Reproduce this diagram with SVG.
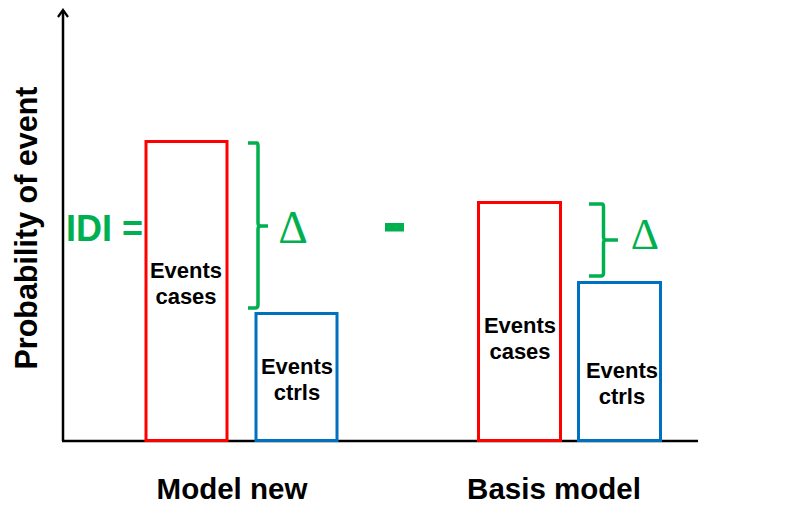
<svg xmlns="http://www.w3.org/2000/svg" width="798" height="510" viewBox="0 0 798 510">
  <defs>
    <marker id="axisHead" viewBox="0 0 12 12" refX="10" refY="6" markerWidth="12" markerHeight="12" markerUnits="userSpaceOnUse" orient="auto">
      <path d="M3,1 L10,6 L3,11" fill="none" stroke="#000" stroke-width="2.2"/>
    </marker>
    <style>
      .axis { stroke: #000; stroke-width: 2.5; fill: none; }
      .cases { fill: none; stroke: #FF0000; stroke-width: 3; }
      .ctrls { fill: none; stroke: #0070C0; stroke-width: 3; }
      .brace { fill: none; stroke: #00B050; stroke-width: 3.5; stroke-linejoin: round; }
      .lbl { font-family: "Liberation Sans", Arial, sans-serif; font-weight: bold; fill: #000; text-anchor: middle; }
      .box { font-size: 22px; }
      .cat { font-size: 29.5px; }
      .green { font-family: "Liberation Sans", Arial, sans-serif; fill: #00B050; }
      .delta { font-family: "Liberation Serif", "Times New Roman", serif; fill: #00B050; text-anchor: middle; }
    </style>
  </defs>
  <rect width="798" height="510" fill="#fff"/>

  <!-- axes -->
  <g id="connectors">
    <line class="axis" x1="63" y1="441" x2="63" y2="10" marker-end="url(#axisHead)"/>
    <line class="axis" x1="62" y1="441" x2="698" y2="441"/>
  </g>

  <!-- axis label -->
  <g id="y-label">
    <text class="lbl" transform="translate(37,228) rotate(-90)" font-size="30.5">Probability of event</text>
  </g>

  <!-- new model bars -->
  <g id="new-cases">
    <rect class="cases" x="146" y="141.5" width="81" height="299"/>
    <text class="lbl box" x="186" y="278">Events</text>
    <text class="lbl box" x="186" y="304">cases</text>
  </g>
  <g id="new-ctrls">
    <rect class="ctrls" x="256" y="313.5" width="81" height="127"/>
    <text class="lbl box" x="297" y="374">Events</text>
    <text class="lbl box" x="297" y="400">ctrls</text>
  </g>
  <g id="new-delta">
    <path class="brace" d="M248,143 L257,143 Q258,143 258,146 L258,223 Q258,226 261,226 L268,226 M261,226 Q258,226 258,229 L258,305 Q258,308 255,308 L248,308"/>
    <text class="delta" x="293" y="243" font-size="46">Δ</text>
  </g>

  <!-- IDI label and minus -->
  <g id="idi">
    <text class="green" x="66" y="241" font-size="36" font-weight="bold">IDI =</text>
  </g>
  <g id="minus">
    <rect x="385" y="223" width="19" height="8.5" fill="#00B050"/>
  </g>

  <!-- basis model bars -->
  <g id="basis-cases">
    <rect class="cases" x="478.5" y="202.5" width="82" height="238"/>
    <text class="lbl box" x="520" y="333">Events</text>
    <text class="lbl box" x="520" y="359">cases</text>
  </g>
  <g id="basis-ctrls">
    <rect class="ctrls" x="578.5" y="282.5" width="82" height="158"/>
    <text class="lbl box" x="622" y="378">Events</text>
    <text class="lbl box" x="622" y="404">ctrls</text>
  </g>
  <g id="basis-delta">
    <path class="brace" d="M589,204 L602,204 Q603.5,204 603.5,207 L603.5,237 Q603.5,240 606,240 L618,240 M606,240 Q603.5,240 603.5,243 L603.5,273 Q603.5,276 601,276 L589,276"/>
    <text class="delta" x="645" y="249" font-size="44">Δ</text>
  </g>

  <!-- category labels -->
  <g id="categories">
    <text class="lbl cat" x="232" y="499">Model new</text>
    <text class="lbl cat" x="554" y="499">Basis model</text>
  </g>
</svg>
